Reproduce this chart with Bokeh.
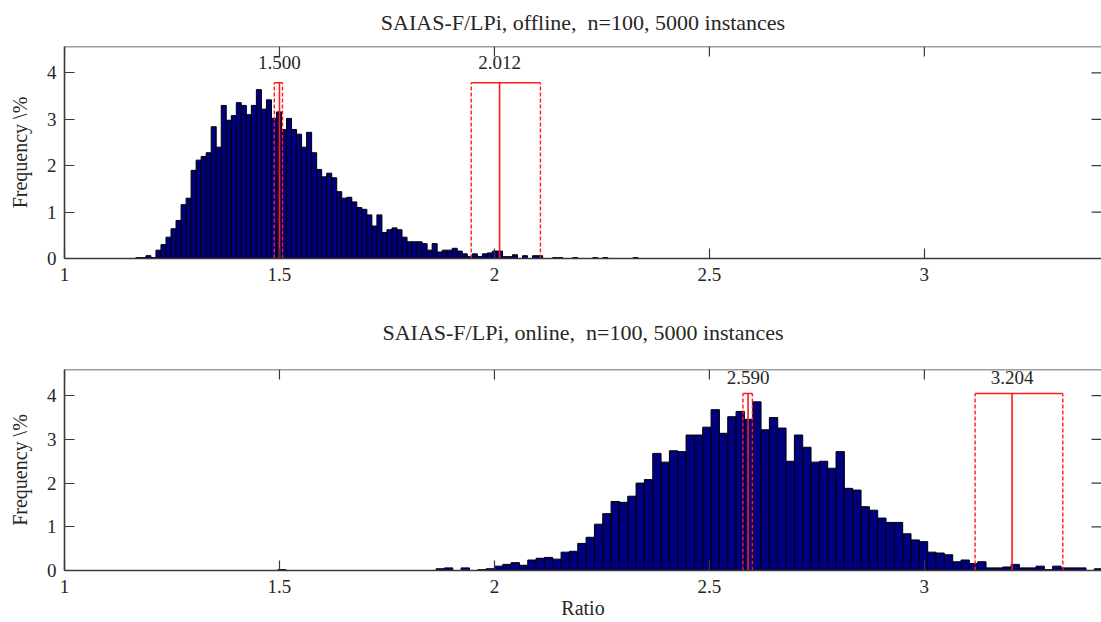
import numpy as np
from bokeh.plotting import figure
from bokeh.layouts import column
from bokeh.models import Range1d, FixedTicker, CustomJSTickFormatter, Span
from bokeh.embed import file_html
from bokeh.resources import INLINE
from bokeh.core.properties import value

# ---------------- data ----------------
x_ticks = [1, 1.5, 2, 2.5, 3]
y_ticks = [0, 1, 2, 3, 4]

off_title = "SAIAS-F/LPi, offline,\u00a0 n=100, 5000 instances"
on_title = "SAIAS-F/LPi, online,\u00a0 n=100, 5000 instances"
x_label = "Ratio"
y_label = "Frequency \\%"

# offline: 100 bins
off_bin_start = 1.166
off_bin_width = 0.01168
off_freq = [
    0.02, 0.02, 0.06, 0.02, 0.18, 0.30, 0.46, 0.64, 0.82, 1.16,
    1.30, 1.90, 2.12, 2.20, 2.28, 2.84, 2.40, 3.30, 2.98, 3.08,
    3.36, 3.30, 3.10, 3.30, 3.64, 3.22, 3.42, 3.02, 3.16, 2.78,
    3.02, 2.78, 2.68, 2.40, 2.72, 2.28, 1.92, 1.76, 1.84, 1.74,
    1.44, 1.30, 1.32, 1.22, 1.10, 1.06, 0.94, 0.70, 0.94, 0.56,
    0.62, 0.66, 0.62, 0.46, 0.36, 0.36, 0.36, 0.32, 0.18, 0.32,
    0.14, 0.18, 0.18, 0.22, 0.16, 0.10, 0.04, 0.10, 0.04, 0.10,
    0.12, 0.16, 0.16, 0.04, 0.04, 0.08, 0.00, 0.06, 0.00, 0.06,
    0.06, 0.00, 0.00, 0.02, 0.02, 0.00, 0.00, 0.02, 0.00, 0.00,
    0.00, 0.02, 0.00, 0.02, 0.00, 0.00, 0.00, 0.00, 0.00, 0.02,
]

# online: 100 bins
on_bin_start = 1.4961
on_bin_width = 0.01938
on_freq = [
    0.02, 0.00, 0.00, 0.00, 0.00, 0.00, 0.00, 0.00, 0.00, 0.00,
    0.00, 0.00, 0.00, 0.00, 0.00, 0.00, 0.00, 0.00, 0.00, 0.04,
    0.06, 0.00, 0.06, 0.00, 0.02, 0.04, 0.10, 0.14, 0.18, 0.12,
    0.24, 0.28, 0.30, 0.26, 0.42, 0.44, 0.62, 0.76, 1.06, 1.30,
    1.58, 1.56, 1.70, 2.00, 2.08, 2.68, 2.48, 2.74, 2.72, 3.10,
    3.10, 3.28, 3.68, 3.14, 3.52, 3.64, 3.46, 3.86, 3.22, 3.50,
    3.26, 2.50, 3.10, 2.82, 2.48, 2.50, 2.34, 2.72, 1.88, 1.84,
    1.46, 1.38, 1.20, 1.10, 1.10, 0.84, 0.70, 0.66, 0.42, 0.40,
    0.36, 0.20, 0.24, 0.16, 0.20, 0.06, 0.06, 0.08, 0.14, 0.06,
    0.06, 0.10, 0.02, 0.10, 0.06, 0.06, 0.06, 0.00, 0.04, 0.02,
]

off_marks = [1.500, 2.012]
off_lo = [1.488, 1.946]
off_hi = [1.507, 2.107]
off_labels = ["1.500", "2.012"]
off_cap = 3.79

on_marks = [2.590, 3.204]
on_lo = [2.578, 3.118]
on_hi = [2.600, 3.322]
on_labels = ["2.590", "3.204"]
on_cap = 4.05

x_min, x_max = 1.0, 3.412

FONT = "Liberation Serif"
TXT = "#262626"
AXC = "#3a3a3a"
BAR_FILL = "#00007f"
RED = "#ff1a1a"
FIG_W = 1101
LEFT = 64


def style_axis(ax):
    ax.major_tick_in = 10
    ax.major_tick_out = 0
    ax.minor_tick_line_color = None
    ax.axis_line_color = AXC
    ax.axis_line_width = 1.6
    ax.major_tick_line_color = AXC
    ax.major_tick_line_width = 1.2
    ax.major_label_text_font = FONT
    ax.major_label_text_color = TXT
    ax.major_label_text_font_size = "19px"


def make_panel(title, freq, start, width, marks, lo, hi, labels, cap, ymax,
               border_top, border_bottom, height, with_xlabel,
               title_valign, title_standoff, label_offset):
    p = figure(width=FIG_W, height=height,
               x_range=Range1d(x_min, x_max), y_range=Range1d(0, ymax),
               output_backend="svg", toolbar_location=None,
               min_border_left=LEFT, min_border_right=0,
               min_border_top=border_top, min_border_bottom=border_bottom)
    p.title.text = title
    p.title.align = "center"
    p.title.vertical_align = title_valign
    p.title.standoff = title_standoff
    p.title.text_font = FONT
    p.title.text_font_style = "normal"
    p.title.text_font_size = "22px"
    p.title.text_color = TXT
    p.outline_line_color = None
    p.grid.visible = False
    p.background_fill_color = "white"
    p.border_fill_color = "white"

    fmt = CustomJSTickFormatter(code="return tick.toString();")
    p.xaxis.ticker = FixedTicker(ticks=x_ticks)
    p.xaxis.formatter = fmt
    p.yaxis.ticker = FixedTicker(ticks=y_ticks)
    style_axis(p.xaxis[0])
    style_axis(p.yaxis[0])
    p.xaxis.major_label_standoff = 9
    p.yaxis.major_label_standoff = 8
    p.yaxis.axis_label = y_label
    p.yaxis.axis_label_text_font = FONT
    p.yaxis.axis_label_text_font_style = "normal"
    p.yaxis.axis_label_text_font_size = "20px"
    p.yaxis.axis_label_text_color = TXT
    p.yaxis.axis_label_standoff = 13
    if with_xlabel:
        p.xaxis.axis_label = x_label
        p.xaxis.axis_label_text_font = FONT
        p.xaxis.axis_label_text_font_style = "normal"
        p.xaxis.axis_label_text_font_size = "20px"
        p.xaxis.axis_label_text_color = TXT
        p.xaxis.axis_label_standoff = 1

    # box top line and mirrored inward ticks (top and right)
    p.add_layout(Span(location=ymax, dimension="width", line_color=AXC,
                      line_width=1.6))
    p.ray(x=x_ticks, y=[ymax] * len(x_ticks), length=10, angle=-np.pi / 2,
          length_units="screen", line_color=AXC, line_width=1.2)
    p.ray(x=[x_max] * len(y_ticks), y=y_ticks, length=10, angle=np.pi,
          length_units="screen", line_color=AXC, line_width=1.2)

    edges = start + width * np.arange(len(freq) + 1)
    p.quad(left=edges[:-1], right=edges[1:], bottom=0, top=freq,
           fill_color=BAR_FILL, line_color="black", line_width=1)

    n = len(marks)
    caps = [cap] * n
    zeros = [0] * n
    p.segment(x0=lo, y0=zeros, x1=lo, y1=caps, line_color=RED,
              line_width=1.4, line_dash="4 2")
    p.segment(x0=hi, y0=zeros, x1=hi, y1=caps, line_color=RED,
              line_width=1.4, line_dash="4 2")
    p.segment(x0=marks, y0=zeros, x1=marks, y1=caps, line_color=RED,
              line_width=1.6)
    p.segment(x0=lo, y0=caps, x1=hi, y1=caps, line_color=RED, line_width=1.6)
    p.text(x=marks, y=caps, text=labels, text_align="center",
           text_baseline="alphabetic", y_offset=label_offset,
           text_font=value(FONT), text_font_size="19px", text_color=TXT)
    return p


# top figure: frame 46..258 of 292; bottom figure: frame 77..278 of 330
top = make_panel(off_title, off_freq, off_bin_start, off_bin_width,
                 off_marks, off_lo, off_hi, off_labels, off_cap, 4.57,
                 46, 34, 292, False, "top", 19, -20)
bottom = make_panel(on_title, on_freq, on_bin_start, on_bin_width,
                    on_marks, on_lo, on_hi, on_labels, on_cap, 4.6,
                    77, 52, 330, True, "middle", 47, -16)

layout = column(top, bottom, spacing=0)
open("out.html", "w").write(file_html(layout, INLINE))
